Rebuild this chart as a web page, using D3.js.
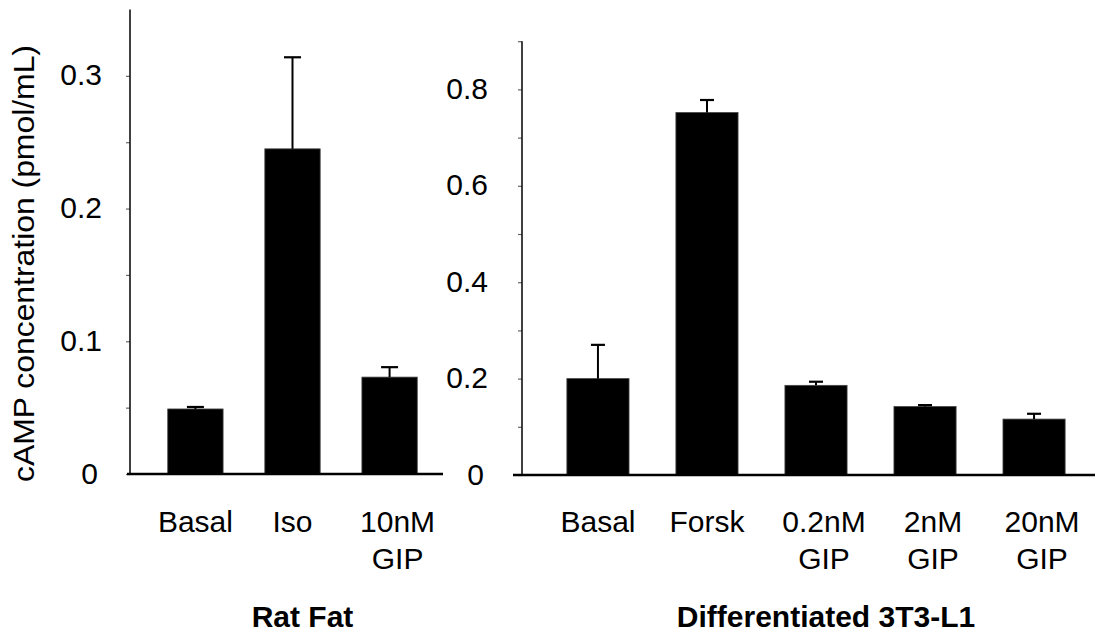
<!DOCTYPE html>
<html>
<head>
<meta charset="utf-8">
<script src="https://cdn.jsdelivr.net/npm/d3@7"></script>
<style>
  body { margin: 0; background: #fff; }
  svg { display: block; font-family: "Liberation Sans", Arial, sans-serif; }
</style>
</head>
<body>
<svg width="1095" height="635"></svg>
<script>
// rat fat panel
const ratLabels = [["Basal"], ["Iso"], ["10nM", "GIP"]];
const ratMeans = [0.049, 0.245, 0.073];
const ratErrs = [0.0015, 0.069, 0.0075];
const ratTicks = [0, 0.1, 0.2, 0.3];
const ratMinor = [0, 0.05, 0.1, 0.15, 0.2, 0.25, 0.3];

// 3T3-L1 panel
const cellLabels = [["Basal"], ["Forsk"], ["0.2nM", "GIP"], ["2nM", "GIP"], ["20nM", "GIP"]];
const cellMeans = [0.2, 0.752, 0.186, 0.142, 0.116];
const cellErrs = [0.07, 0.026, 0.0075, 0.003, 0.011];
const cellTicks = [0, 0.2, 0.4, 0.6, 0.8];
const cellMinor = [0, 0.1, 0.2, 0.3, 0.4, 0.5, 0.6, 0.7, 0.8, 0.9];

const yTitle = "cAMP concentration (pmol/mL)";
const panelTitles = ["Rat Fat", "Differentiated 3T3-L1"];

const svg = d3.select("svg");
svg.append("rect").attr("width", 1095).attr("height", 635).attr("fill", "#fff");

const drawPanel = (opt) => {
  const x = d3.scaleBand()
      .domain(opt.labels.map((d, i) => i))
      .range(opt.xRange)
      .paddingInner(0.43)
      .paddingOuter(0.43);

  const y = d3.scaleLinear()
      .domain(opt.yDomain)
      .range([opt.base, opt.top]);

  const g = svg.append("g");

  // minor + major ticks, no labels
  g.append("g")
      .attr("transform", `translate(${opt.axisX},0)`)
      .call(d3.axisLeft(y).tickValues(opt.minor).tickSize(4).tickFormat(""))
      .call(s => s.select(".domain").remove())
      .call(s => s.selectAll("line").attr("stroke", "#666").attr("stroke-width", 1.2));

  // tick labels
  g.append("g")
      .attr("transform", `translate(${opt.axisX},0)`)
      .call(d3.axisLeft(y).tickValues(opt.ticks).tickSize(0).tickPadding(0)
        .tickFormat(d => d === 0 ? "0" : d3.format(".1f")(d)))
      .call(s => s.select(".domain").remove())
      .call(s => s.selectAll("text")
        .attr("x", d => d === 0 ? opt.labelX - 4 : opt.labelX)
        .attr("dy", "0.3em")
        .attr("font-size", 30)
        .attr("font-family", "Liberation Sans, Arial, sans-serif")
        .attr("fill", "#000"));

  // y axis line
  g.append("line")
      .attr("x1", opt.axisX).attr("x2", opt.axisX)
      .attr("y1", y(opt.yDomain[1])).attr("y2", opt.base)
      .attr("stroke", "#111").attr("stroke-width", 1.6);

  // bars
  g.selectAll(".bar")
    .data(opt.means)
    .enter().append("rect")
      .attr("class", "bar")
      .attr("x", (d, i) => x(i))
      .attr("width", x.bandwidth())
      .attr("y", d => y(d))
      .attr("height", d => y(0) - y(d))
      .attr("fill", "#000")
      .attr("stroke", "#444")
      .attr("stroke-width", 0.8);

  // error bars
  const eb = g.selectAll(".err")
    .data(opt.means.map((m, i) => ({ m: m, e: opt.errs[i], i: i })))
    .enter().append("g")
      .attr("class", "err")
      .attr("transform", d => `translate(${x(d.i) + x.bandwidth() / 2},0)`);
  eb.append("line")
      .attr("y1", d => y(d.m)).attr("y2", d => y(d.m + d.e))
      .attr("stroke", "#000").attr("stroke-width", 2);
  eb.append("line")
      .attr("x1", -opt.cap / 2).attr("x2", opt.cap / 2)
      .attr("y1", d => y(d.m + d.e)).attr("y2", d => y(d.m + d.e))
      .attr("stroke", "#000").attr("stroke-width", 2.2);

  // baseline
  g.append("line")
      .attr("x1", opt.baseX[0]).attr("x2", opt.baseX[1])
      .attr("y1", opt.base).attr("y2", opt.base)
      .attr("stroke", "#000").attr("stroke-width", 2.6);

  // category labels
  const lab = g.selectAll(".cat")
    .data(opt.labels)
    .enter().append("text")
      .attr("class", "cat")
      .attr("text-anchor", "middle")
      .attr("font-size", 30)
      .attr("transform", (d, i) =>
        `translate(${x(i) + x.bandwidth() / 2 + (d.length > 1 ? 8 : 0)},531.5)`);
  lab.selectAll("tspan")
    .data(d => d)
    .enter().append("tspan")
      .attr("x", 0)
      .attr("y", (d, i) => i * 37)
      .text(d => d);

  // panel title
  g.append("text")
      .attr("text-anchor", "middle")
      .attr("font-size", 30)
      .attr("font-weight", "bold")
      .attr("transform", `translate(${opt.titleX},626.5)`)
      .text(opt.title);
};

drawPanel({
  labels: ratLabels, means: ratMeans, errs: ratErrs,
  ticks: ratTicks, minor: ratMinor, yDomain: [0, 0.35],
  xRange: [126, 459], axisX: 130, base: 474, top: 9.5,
  baseX: [127, 443], labelX: -28, cap: 17,
  title: panelTitles[0], titleX: 302.5
});

drawPanel({
  labels: cellLabels, means: cellMeans, errs: cellErrs,
  ticks: cellTicks, minor: cellMinor, yDomain: [0, 0.9],
  xRange: [520, 1112], axisX: 522, base: 475, top: 41.2,
  baseX: [513, 1095], labelX: -34, cap: 14,
  title: panelTitles[1], titleX: 826
});

// y axis title
svg.append("text")
    .attr("transform", "translate(34,263.5) rotate(-90)")
    .attr("text-anchor", "middle")
    .attr("font-size", 30)
    .attr("textLength", 437)
    .attr("lengthAdjust", "spacingAndGlyphs")
    .text(yTitle);
</script>
</body>
</html>
